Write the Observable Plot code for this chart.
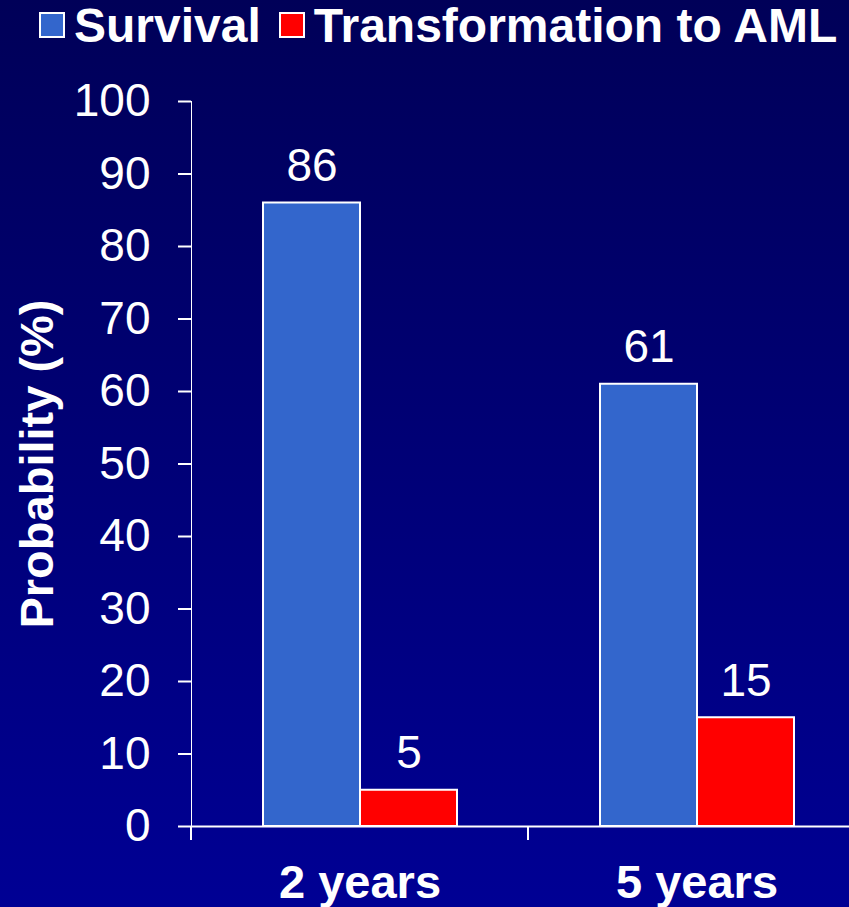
<!DOCTYPE html>
<html>
<head>
<meta charset="utf-8">
<script src="https://cdn.jsdelivr.net/npm/d3@7"></script>
<script src="https://cdn.jsdelivr.net/npm/@observablehq/plot@0.6"></script>
<style>
  html, body { margin: 0; padding: 0; }
  body {
    width: 849px; height: 907px; overflow: hidden;
    background: linear-gradient(to bottom, #000058 0%, #000094 100%);
    font-family: "Liberation Sans", Arial, sans-serif;
  }
  #legend > div {
    height: 50px; margin: 0 !important; padding: 0 0 0 40px !important;
    display: flex !important; align-items: center !important; flex-wrap: nowrap !important;
    font: bold 48px "Liberation Sans", Arial, sans-serif !important; color: #fff !important;
    min-height: 0 !important; box-sizing: border-box; white-space: nowrap;
  }
  #legend > div > span { margin-right: 19px !important; display: inline-flex !important; align-items: center !important; }
  #legend > div > span > svg { margin-right: 10px !important; overflow: visible; }
  #legend rect { stroke: #fff; stroke-width: 2px; }
  #chart svg { display: block; overflow: visible; }
  g[aria-label="y-axis tick"], g[aria-label="y-axis tick"] *,
  g[aria-label="y-axis line"], g[aria-label="y-axis line"] * { stroke-width: 2px; }
  g[aria-label="y-axis label"] { font-weight: bold; font-size: 47px; }
  g[aria-label="fx-axis tick label"] { font-weight: bold; font-size: 47px; }
</style>
</head>
<body>
<div id="legend"></div>
<div id="chart"></div>
<script>
// Survival and AML transformation probabilities at 2 and 5 years
const periods = ["2 years", "5 years"];
const seriesNames = ["Survival", "Transformation to AML"];
const seriesColors = ["#3366cc", "#ff0000"];
const survival = [86, 61];
const transformation = [5, 15];
const yTicks = [0, 10, 20, 30, 40, 50, 60, 70, 80, 90, 100];

const rows = periods.flatMap((period, i) => [
  {period, series: seriesNames[0], value: survival[i]},
  {period, series: seriesNames[1], value: transformation[i]}
]);

const legend = Plot.legend({
  color: {domain: seriesNames, range: seriesColors},
  swatchSize: 24
});
document.getElementById("legend").appendChild(legend);

const chart = Plot.plot({
  width: 849,
  height: 857,
  marginTop: 51,
  marginBottom: 81,
  marginLeft: 191,
  marginRight: -16,
  style: {
    background: "transparent",
    color: "white",
    fontFamily: "Liberation Sans, Arial, sans-serif",
    fontSize: "46px"
  },
  fx: {domain: periods, padding: 0, axis: "bottom", tickSize: 0, tickPadding: 38, label: null},
  x: {domain: seriesNames, paddingInner: 0, paddingOuter: 0.737, axis: null},
  y: {
    domain: [0, 100],
    ticks: yTicks,
    tickSize: 13,
    tickPadding: 28,
    line: true,
    label: "Probability (%)",
    labelAnchor: "center",
    labelOffset: 172,
    labelArrow: "none"
  },
  color: {domain: seriesNames, range: seriesColors},
  marks: [
    Plot.barY(rows, {
      fx: "period", x: "series", y: "value", fill: "series",
      stroke: "white", strokeWidth: 2
    }),
    Plot.text(rows, {
      fx: "period", x: "series", y: "value", text: d => String(d.value),
      dy: -22, lineAnchor: "bottom", fill: "white", fontSize: 46
    }),
    Plot.ruleY([0], {stroke: "white", strokeWidth: 2})
  ]
});
document.getElementById("chart").appendChild(chart);

// short ticks below the baseline at the edges of each period band
const fxScale = chart.scale("fx");
const yScale = chart.scale("y");
const step = fxScale.step ?? (fxScale.range[1] - fxScale.range[0]) / fxScale.domain.length;
const edges = d3.range(fxScale.domain.length + 1).map(i => fxScale.range[0] + i * step);
const y0 = yScale.apply(0);
d3.select(chart).append("g")
  .attr("aria-label", "period separators")
  .attr("stroke", "white")
  .attr("stroke-width", 2)
  .selectAll("line")
  .data(edges)
  .join("line")
  .attr("x1", d => d).attr("x2", d => d)
  .attr("y1", y0).attr("y2", y0 + 14);
</script>
</body>
</html>
